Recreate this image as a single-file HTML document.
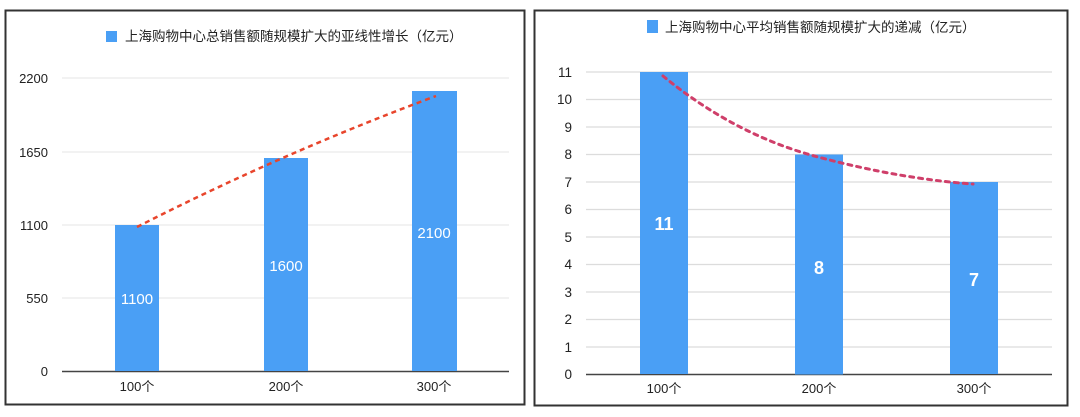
<!DOCTYPE html>
<html><head><meta charset="utf-8"><style>
body{margin:0;background:#fff;}
svg{display:block;font-family:"Liberation Sans","Noto Sans CJK SC",sans-serif;}
</style></head><body>
<svg width="1080" height="417" viewBox="0 0 1080 417">
<rect x="0" y="0" width="1080" height="417" fill="#fff"/>
<!-- Left chart -->
<rect x="5.5" y="10.5" width="519" height="394" fill="#fff" stroke="#333" stroke-width="2"/>
<rect x="106" y="31" width="11" height="11" fill="#4a9ff5"/>
<text x="125" y="41" font-size="13.5" fill="#222">上海购物中心总销售额随规模扩大的亚线性增长（亿元）</text>
<g stroke="#e4e4e4" stroke-width="1">
<line x1="62" y1="78" x2="509" y2="78"/><line x1="62" y1="152" x2="509" y2="152"/>
<line x1="62" y1="225" x2="509" y2="225"/><line x1="62" y1="298" x2="509" y2="298"/>
</g>
<line x1="62" y1="371.5" x2="509" y2="371.5" stroke="#444" stroke-width="1.5"/>
<g font-size="13" fill="#222" text-anchor="end">
<text x="48" y="83">2200</text><text x="48" y="157">1650</text><text x="48" y="230">1100</text>
<text x="48" y="303">550</text><text x="48" y="376">0</text>
</g>
<g fill="#4a9ff5">
<rect x="115" y="225" width="44" height="146"/>
<rect x="264" y="158" width="44" height="213"/>
<rect x="412" y="91" width="45" height="280"/>
</g>
<g font-size="15" fill="#fff" text-anchor="middle">
<text x="137" y="304">1100</text><text x="286" y="271">1600</text><text x="434" y="238">2100</text>
</g>
<g font-size="13" fill="#222" text-anchor="middle">
<text x="137" y="391">100个</text><text x="286" y="391">200个</text><text x="434" y="391">300个</text>
</g>
<path d="M137,227 Q280,154 436,96" fill="none" stroke="#e8452c" stroke-width="2.5" stroke-dasharray="5,4"/>
<!-- Right chart -->
<rect x="534.5" y="10.5" width="533" height="395" fill="#fff" stroke="#333" stroke-width="2"/>
<rect x="647" y="20" width="11" height="13" fill="#4a9ff5"/>
<text x="665" y="32" font-size="13.5" fill="#222">上海购物中心平均销售额随规模扩大的递减（亿元）</text>
<g stroke="#dcdcdc" stroke-width="1.2">
<line x1="586" y1="72" x2="1052" y2="72"/><line x1="586" y1="99.5" x2="1052" y2="99.5"/>
<line x1="586" y1="127" x2="1052" y2="127"/><line x1="586" y1="154.5" x2="1052" y2="154.5"/>
<line x1="586" y1="182" x2="1052" y2="182"/><line x1="586" y1="209.5" x2="1052" y2="209.5"/>
<line x1="586" y1="237" x2="1052" y2="237"/><line x1="586" y1="264.5" x2="1052" y2="264.5"/>
<line x1="586" y1="292" x2="1052" y2="292"/><line x1="586" y1="319.5" x2="1052" y2="319.5"/>
<line x1="586" y1="347" x2="1052" y2="347"/>
</g>
<line x1="586" y1="374.5" x2="1052" y2="374.5" stroke="#444" stroke-width="1.5"/>
<g font-size="13.5" fill="#222" text-anchor="end">
<text x="572" y="77">11</text><text x="572" y="104">10</text><text x="572" y="132">9</text>
<text x="572" y="159">8</text><text x="572" y="187">7</text><text x="572" y="214">6</text>
<text x="572" y="242">5</text><text x="572" y="269">4</text><text x="572" y="297">3</text>
<text x="572" y="324">2</text><text x="572" y="352">1</text><text x="572" y="379">0</text>
</g>
<g fill="#4a9ff5">
<rect x="640" y="72" width="48" height="302"/>
<rect x="795" y="154.5" width="48" height="220"/>
<rect x="950" y="182" width="48" height="192"/>
</g>
<g font-size="18" font-weight="bold" fill="#fff" text-anchor="middle">
<text x="664" y="230">11</text><text x="819" y="274">8</text><text x="974" y="286">7</text>
</g>
<g font-size="13" fill="#222" text-anchor="middle">
<text x="664" y="393">100个</text><text x="819" y="393">200个</text><text x="974" y="393">300个</text>
</g>
<path d="M663,76 Q735,135 818,157 T973,184" fill="none" stroke="#cf3f6a" stroke-width="3" stroke-dasharray="4,5" stroke-linecap="round"/>
</svg>
</body></html>
